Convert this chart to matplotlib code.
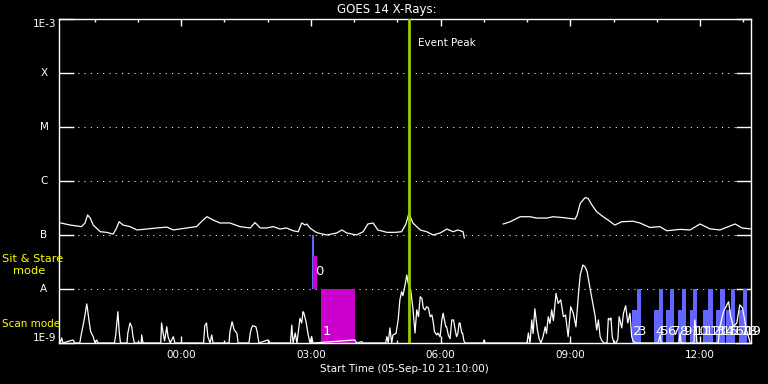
import numpy as np
import matplotlib
matplotlib.use("Agg")
import matplotlib.pyplot as plt
import matplotlib.transforms as mtransforms
from matplotlib.ticker import FixedLocator, FuncFormatter, NullFormatter

# hours after 00:00 on 06-Sep-10 (plot starts 05-Sep-10 21:10)
x_start = -2.8333
x_end = 13.1667

# GOES 14 long channel (upper curve), NaN = data gap
long_hours = [-2.78, -2.57, -2.30, -2.22, -2.16, -2.10, -2.03, -1.87, -1.72, -1.57,
              -1.50, -1.43, -1.34, -1.18, -1.02, -0.79, -0.56, -0.33, -0.18, 0.13,
              0.36, 0.51, 0.60, 0.74, 0.90, 1.13, 1.36, 1.60, 1.71, 1.83,
              1.98, 2.13, 2.29, 2.44, 2.59, 2.71, 2.79, 2.87, 2.91, 2.98,
              3.10, 3.17, 3.37, 3.60, 3.72, 3.83, 4.06, 4.21, 4.32, 4.44,
              4.55, 4.76, 4.95, 5.10, 5.20, 5.27, 5.32, 5.36, 5.53, 5.68,
              5.83, 5.99, 6.15, 6.29, 6.40, 6.52, 6.55, 7.00, 7.45, 7.61,
              7.84, 8.07, 8.22, 8.46, 8.60, 8.83, 9.11, 9.16, 9.23, 9.34,
              9.41, 9.50, 9.61, 9.76, 9.87, 10.03, 10.19, 10.45, 10.61, 10.84,
              11.07, 11.23, 11.54, 11.77, 12.00, 12.23, 12.46, 12.81, 12.97, 13.16]
long_flux = [1.67e-7, 1.53e-7, 1.43e-7, 1.67e-7, 2.35e-7, 2.06e-7, 1.53e-7, 1.15e-7, 1.12e-7, 1.04e-7,
             1.30e-7, 1.76e-7, 1.53e-7, 1.43e-7, 1.24e-7, 1.29e-7, 1.35e-7, 1.40e-7, 1.24e-7, 1.35e-7,
             1.43e-7, 1.90e-7, 2.18e-7, 1.90e-7, 1.67e-7, 1.67e-7, 1.43e-7, 1.35e-7, 1.70e-7, 1.35e-7,
             1.35e-7, 1.43e-7, 1.29e-7, 1.35e-7, 1.20e-7, 1.15e-7, 1.67e-7, 1.53e-7, 1.60e-7, 1.35e-7,
             1.15e-7, 1.09e-7, 1.00e-7, 1.09e-7, 1.24e-7, 1.09e-7, 1.00e-7, 1.15e-7, 1.60e-7, 1.67e-7,
             1.24e-7, 1.12e-7, 1.12e-7, 1.15e-7, 1.60e-7, 2.55e-7, 2.00e-7, 1.67e-7, 1.24e-7, 1.15e-7,
             1.00e-7, 1.09e-7, 1.29e-7, 1.15e-7, 1.24e-7, 1.15e-7, 8.8e-8, np.nan, 1.60e-7, 1.76e-7,
             2.18e-7, 2.18e-7, 2.06e-7, 2.06e-7, 2.18e-7, 2.10e-7, 1.97e-7, 2.35e-7, 3.86e-7, 4.91e-7,
             4.78e-7, 3.59e-7, 2.70e-7, 2.18e-7, 1.90e-7, 1.53e-7, 1.76e-7, 1.80e-7, 1.67e-7, 1.38e-7,
             1.43e-7, 1.20e-7, 1.27e-7, 1.24e-7, 1.60e-7, 1.30e-7, 1.24e-7, 1.60e-7, 1.35e-7, 1.30e-7]

# GOES 14 short channel (lower spiky curve)
short_hours = [-2.80, -2.76, -2.73, -2.50, -2.45, -2.34, -2.31, -2.27, -2.22, -2.18,
               -2.16, -2.13, -2.09, -2.03, -1.99, -1.95, -1.92, -1.54, -1.51, -1.46,
               -1.43, -1.40, -1.25, -1.23, -1.18, -1.14, -1.11, -1.08, -0.92, -0.91,
               -0.88, -0.47, -0.45, -0.42, -0.38, -0.33, -0.30, -0.25, -0.18, -0.14,
               0.52, 0.55, 0.59, 0.62, 0.67, 0.71, 0.74, 1.11, 1.13, 1.18,
               1.23, 1.29, 1.32, 1.57, 1.60, 1.63, 1.66, 1.73, 1.76, 1.80,
               2.01, 2.06, 2.53, 2.56, 2.59, 2.64, 2.68, 2.75, 2.79, 2.82,
               2.84, 2.89, 2.94, 2.98, 3.02, 3.05, 4.02, 4.06, 4.18, 4.21,
               4.73, 4.76, 4.79, 4.83, 4.87, 4.90, 4.97, 5.02, 5.06, 5.10,
               5.13, 5.18, 5.22, 5.25, 5.31, 5.36, 5.41, 5.45, 5.49, 5.53,
               5.57, 5.60, 5.64, 5.68, 5.72, 5.76, 5.80, 5.83, 5.86, 5.91,
               5.94, 5.99, 6.03, 6.06, 6.12, 6.14, 6.18, 6.22, 6.26, 6.30,
               6.34, 6.37, 6.40, 6.43, 6.45, 6.49, 6.51, 6.54, 6.57, 6.98,
               7.01, 7.03, 8.00, 8.03, 8.07, 8.11, 8.14, 8.18, 8.24, 8.28,
               8.32, 8.37, 8.42, 8.45, 8.49, 8.53, 8.57, 8.61, 8.67, 8.72,
               8.78, 8.84, 8.89, 8.95, 9.01, 9.07, 9.13, 9.19, 9.23, 9.29,
               9.34, 9.39, 9.45, 9.52, 9.57, 9.61, 9.65, 9.69, 9.73, 9.78,
               9.85, 9.88, 9.92, 9.94, 9.97, 10.01, 10.06, 10.10, 10.13, 10.19,
               10.23, 10.28, 10.33, 10.38, 10.42, 10.45, 10.50, 11.03, 11.08, 11.10,
               11.51, 11.54, 11.56, 11.86, 11.88, 11.91, 11.93, 12.42, 12.46, 12.54,
               12.60, 12.66, 12.71, 12.77, 12.85, 12.92, 12.98, 13.02, 13.06, 13.12,
               13.16]
short_flux = [1e-9, 1.24e-9, 1e-9, 1.14e-9, 1e-9, 1e-9, 1.41e-9, 2.0e-9, 3.3e-9, 5.3e-9,
              4.1e-9, 2.67e-9, 1.62e-9, 1.31e-9, 1e-9, 1.14e-9, 1e-9, 1e-9, 1.41e-9, 3.8e-9,
              1.62e-9, 1e-9, 1e-9, 1.53e-9, 2.35e-9, 2.0e-9, 1.31e-9, 1e-9, 1e-9, 1.41e-9,
              1e-9, 1e-9, 2.35e-9, 1.62e-9, 1.1e-9, 2.0e-9, 1.31e-9, 1e-9, 1.31e-9, 1e-9,
              1e-9, 2.1e-9, 2.35e-9, 1.31e-9, 1e-9, 1.41e-9, 1e-9, 1e-9, 1.62e-9, 2.48e-9,
              1.74e-9, 1.53e-9, 1e-9, 1e-9, 1.53e-9, 1.9e-9, 2.1e-9, 2.0e-9, 1.62e-9, 1e-9,
              1.14e-9, 1e-9, 1e-9, 2.15e-9, 1e-9, 1.53e-9, 1e-9, 2.87e-9, 2.35e-9, 3.8e-9,
              3.6e-9, 2.48e-9, 1.41e-9, 1e-9, 1.31e-9, 1e-9, 1.14e-9, 1e-9, 1.06e-9, 1e-9,
              1e-9, 1.31e-9, 1e-9, 1.9e-9, 1e-9, 1.41e-9, 1.5e-9, 2.67e-9, 6.3e-9, 8.9e-9,
              7.5e-9, 1.19e-8, 1.82e-8, 1.29e-8, 9.6e-9, 4.45e-9, 1.53e-9, 4.1e-9, 3.07e-9, 7.2e-9,
              6.7e-9, 4.45e-9, 4.1e-9, 4.7e-9, 4.45e-9, 3.07e-9, 3.3e-9, 2.48e-9, 1.62e-9, 1.41e-9,
              1.53e-9, 1.3e-9, 2.67e-9, 3.55e-9, 2.0e-9, 2.0e-9, 1.41e-9, 1.2e-9, 2.67e-9, 2.67e-9,
              1.74e-9, 1.31e-9, 1.5e-9, 2.35e-9, 2.35e-9, 1.53e-9, 1.53e-9, 1.1e-9, 1e-9, 1e-9,
              1.14e-9, 1e-9, 1e-9, 1.53e-9, 1e-9, 2.67e-9, 1.5e-9, 4.3e-9, 1.74e-9, 1.2e-9,
              1e-9, 1.3e-9, 2.0e-9, 1.5e-9, 3.07e-9, 2.3e-9, 4.1e-9, 2.6e-9, 8.3e-9, 5.4e-9,
              6.3e-9, 3.07e-9, 3.3e-9, 1.31e-9, 4.7e-9, 3.55e-9, 2.0e-9, 8.3e-9, 1.82e-8, 2.78e-8,
              2.59e-8, 2.09e-8, 1.10e-8, 5.4e-9, 3.3e-9, 1.74e-9, 2.67e-9, 1.31e-9, 1.1e-9, 1e-9,
              1e-9, 2.87e-9, 2.67e-9, 2.9e-9, 1.31e-9, 1e-9, 1e-9, 1.2e-9, 3.07e-9, 1.9e-9,
              3.55e-9, 4.9e-9, 2.35e-9, 3.55e-9, 1.31e-9, 1.1e-9, 1e-9, 1e-9, 1.41e-9, 1e-9,
              1e-9, 1.53e-9, 1e-9, 1e-9, 2.67e-9, 1.6e-9, 1e-9, 1e-9, 2.0e-9, 3.8e-9,
              4.7e-9, 5.8e-9, 3.07e-9, 2.0e-9, 2.35e-9, 5.1e-9, 4.45e-9, 3.07e-9, 1.9e-9, 1.31e-9,
              1e-9]

event_peak = 5.27

# observation bars: label, start, end, bottom, top, colour
obs_labels = ["", "0", "1"] + [str(i) for i in range(2, 20)]
obs_start = [3.03, 3.06, 3.24,
             10.43, 10.54, 10.94, 11.05, 11.21, 11.31, 11.49, 11.58, 11.77,
             11.84, 12.07, 12.19, 12.37, 12.46, 12.60, 12.72, 12.90, 13.00]
obs_end = [3.075, 3.14, 4.02,
           10.54, 10.64, 11.05, 11.14, 11.31, 11.40, 11.58, 11.68, 11.84,
           11.93, 12.19, 12.30, 12.46, 12.58, 12.72, 12.81, 13.00, 13.09]
obs_bottom = [1e-8, 1e-8, 1e-9] + [1e-9] * 18
obs_top = [1e-7, 4.08e-8, 1e-8] + [4.1e-9, 1e-8] * 9
obs_color = ["#6464ff", "#cc00cc", "#cc00cc"] + ["#6464ff"] * 18

class_values = [1e-3, 1e-4, 1e-5, 1e-6, 1e-7, 1e-8, 1e-9]
class_labels = ["1E-3", "X", "M", "C", "B", "A", "1E-9"]

plt.rcParams['font.family'] = ['DejaVu Sans']
fig = plt.figure(figsize=(7.68, 3.84), dpi=100, facecolor='black')
ax = fig.add_axes([58.5 / 768, 41 / 384, 692 / 768, 324 / 384], facecolor='black')
ax.set_yscale('log')
ax.set_xlim(x_start, x_end)
ax.set_ylim(1e-9, 1e-3)

for s in ax.spines.values():
    s.set_color('white')
    s.set_linewidth(1.0)

# dotted class lines
for v in class_values[1:-1]:
    ax.axhline(v, color='white', lw=0.75, ls=(0, (1, 5)), zorder=1)

ax.yaxis.set_major_locator(FixedLocator(class_values))
ax.yaxis.set_minor_locator(FixedLocator([]))
ax.yaxis.set_major_formatter(NullFormatter())
ax.yaxis.set_minor_formatter(NullFormatter())
ax.tick_params(axis='y', which='major', direction='in', length=11, width=1,
               color='white', left=True, right=True)

ax.xaxis.set_major_locator(FixedLocator([0, 3, 6, 9, 12]))
ax.xaxis.set_minor_locator(FixedLocator(list(range(-2, 14))))
ax.xaxis.set_major_formatter(FuncFormatter(lambda h, p: "%02d:00" % (int(round(h)) % 24)))
ax.tick_params(axis='x', which='major', direction='in', length=5, width=1,
               color='white', top=True, bottom=True, labelcolor='white',
               labelsize=7.5, pad=5)
ax.tick_params(axis='x', which='minor', direction='in', length=2.5, width=1,
               color='white', top=True, bottom=True)

# y class labels
trans = mtransforms.blended_transform_factory(ax.transAxes, ax.transData)
for v, lab in zip(class_values, class_labels):
    if lab == "1E-3":
        ax.text(-0.0025, v, lab, transform=trans, ha='right', va='top',
                color='white', fontsize=7.5)
    elif lab == "1E-9":
        ax.text(-0.0025, v, lab, transform=trans, ha='right', va='bottom',
                color='white', fontsize=7.5)
    else:
        ax.text(-0.021, v, lab, transform=trans, ha='center', va='center',
                color='white', fontsize=7.5)

# observation bars
for lab, x0, x1, b, t, c in zip(obs_labels, obs_start, obs_end, obs_bottom, obs_top, obs_color):
    ax.bar(x0, t - b, width=x1 - x0, bottom=b, align='edge', color=c,
           edgecolor='none', zorder=2)

ax.plot(long_hours, long_flux, color='white', lw=0.9, zorder=3)
ax.plot(short_hours, short_flux, color='white', lw=0.9, zorder=3)

ax.axvline(event_peak, color='#99cc00', lw=2.0, zorder=4)
ax.text(event_peak + 0.2, 3.6e-4, "Event Peak", color='white', fontsize=7.5,
        ha='left', va='center', zorder=5)

for lab, x0, b in zip(obs_labels, obs_start, obs_bottom):
    if lab == "":
        continue
    ypos = 2.07e-8 if b == 1e-8 else 1.6e-9
    ax.text(x0 + 0.03, ypos, lab, color='white', fontsize=9.5, ha='left',
            va='center', zorder=6, clip_on=False)

fig.text(387 / 768, 1 - 9 / 384, "GOES 14 X-Rays:", color='white', fontsize=8.5,
         ha='center', va='center')
fig.text(404.5 / 768, 1 - 369 / 384, "Start Time (05-Sep-10 21:10:00)", color='white',
         fontsize=7.5, ha='center', va='center')
fig.text(2 / 768, 1 - 259 / 384, "Sit & Stare", color='yellow', fontsize=8.2,
         ha='left', va='center')
fig.text(13 / 768, 1 - 271 / 384, "mode", color='yellow', fontsize=8.2,
         ha='left', va='center')
fig.text(2 / 768, 1 - 324 / 384, "Scan mode", color='yellow', fontsize=7.5,
         ha='left', va='center')

fig.savefig("out.png", dpi=100, facecolor='black')
